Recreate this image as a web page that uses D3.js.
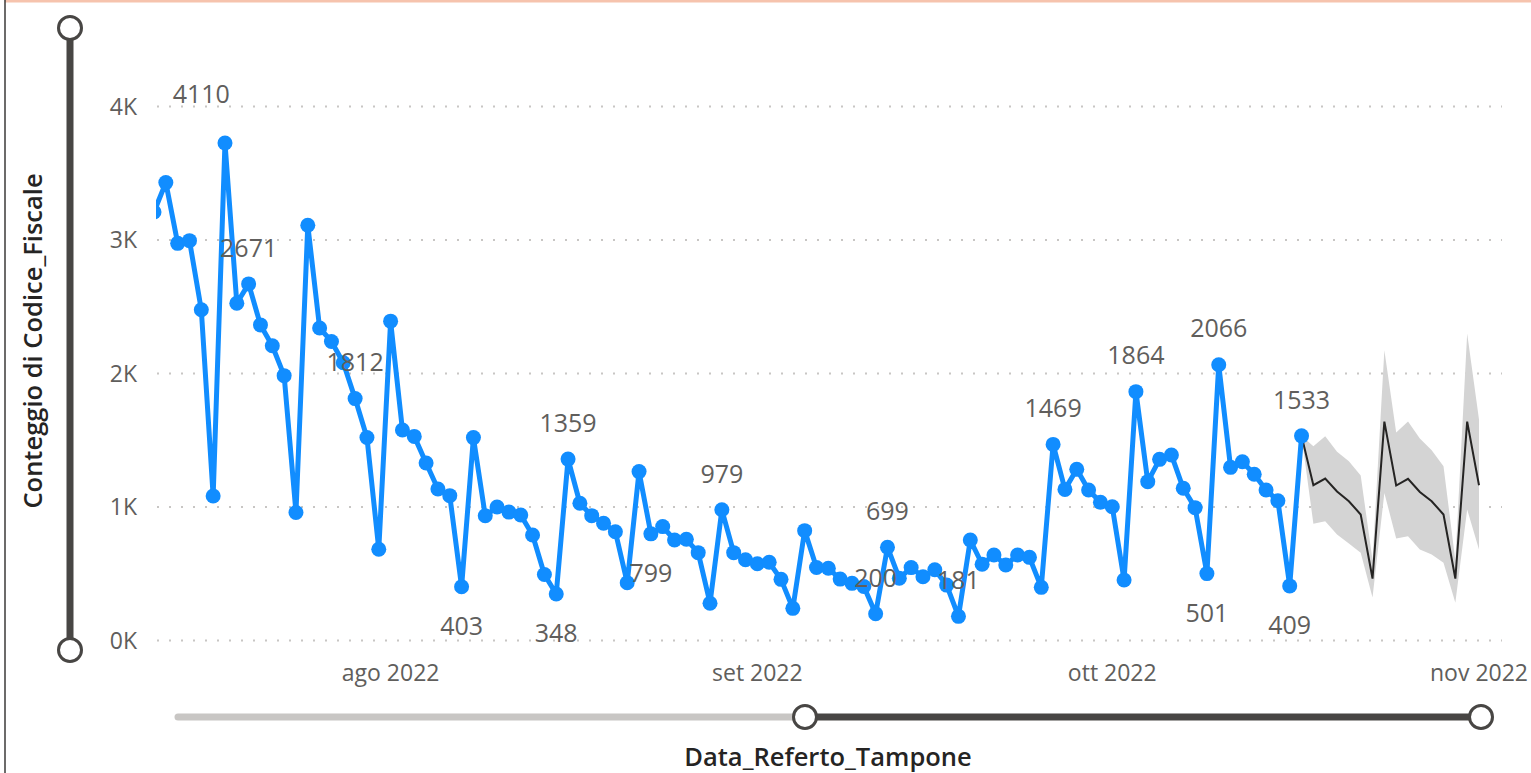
<!DOCTYPE html>
<html lang="it">
  <head>
    <meta charset="utf-8" />
    <title>Conteggio di Codice_Fiscale</title>
    <script src="https://d3js.org/d3.v7.min.js"></script>
    <style>
      body {
        margin: 0;
        background: #ffffff;
      }
      svg {
        display: block;
        font-family: "Open Sans", sans-serif;
      }
      .grid line {
        stroke: #c8c6c4;
        stroke-width: 2;
        stroke-dasharray: 2 10;
      }
      .tick-label {
        fill: #605e5c;
        font-size: 23px;
      }
      .data-label {
        fill: #605e5c;
        font-size: 25px;
        text-anchor: middle;
      }
      .axis-title {
        fill: #252423;
        font-size: 25.5px;
        font-weight: 600;
        text-anchor: middle;
      }
    </style>
  </head>
  <body>
    <svg width="1531" height="773"></svg>
    <script>
      // first day shown on the axis, one value per day after it
      var firstDay = new Date(2022, 6, 12);

      var counts = [
        3210, 3430, 2975, 2995, 2477, 1082, 3727, 2526, 2671, 2364,
        2208, 1984, 959, 3111, 2341, 2240, 2080, 1812, 1521, 683,
        2392, 1577, 1529, 1330, 1135, 1085, 403, 1520, 934, 1000,
        962, 940, 790, 494, 348, 1359, 1028, 935, 878, 815,
        433, 1265, 799, 853, 753, 758, 658, 279, 979, 658,
        605, 575, 586, 458, 241, 823, 547, 541, 460, 428,
        405, 200, 699, 466, 546, 478, 530, 415, 181, 753,
        571, 640, 566, 640, 623, 398, 1469, 1132, 1282, 1127,
        1035, 1002, 453, 1864, 1190, 1357, 1390, 1140, 995, 501,
        2066, 1297, 1339, 1245, 1127, 1047, 409, 1533
      ];

      // forecast starts on the last observed day
      var forecast = [1533, 1163, 1213, 1116, 1043, 944, 464, 1640, 1161, 1211, 1113, 1043, 944, 464, 1640, 1163];
      var forecastHigh = [1533, 1455, 1530, 1413, 1343, 1236, 603, 2175, 1558, 1640, 1513, 1426, 1306, 600, 2300, 1655];
      var forecastLow = [1533, 874, 894, 794, 727, 657, 322, 1105, 764, 781, 682, 644, 582, 282, 981, 682];

      var yTicks = [0, 1000, 2000, 3000, 4000];
      var monthTicks = [new Date(2022, 7, 1), new Date(2022, 8, 1), new Date(2022, 9, 1), new Date(2022, 10, 1)];

      // which days get a data label, and on which side of the point
      var labelDays = [8, 17, 26, 34, 35, 42, 48, 61, 62, 68, 76, 83, 89, 90, 96, 97];
      var labelSides = ["up", "up", "down", "down", "up", "down", "up", "up", "up", "up", "up", "up", "down", "up", "down", "up"];
      var maxLabelDay = 4, maxLabelValue = 4110;

      var svg = d3.select("svg");

      var days = counts.map(function(d, i) { return d3.timeDay.offset(firstDay, i); });
      var forecastDays = forecast.map(function(d, i) { return d3.timeDay.offset(firstDay, counts.length - 1 + i); });

      var x = d3.scaleTime()
        .domain([firstDay, new Date(2022, 10, 1)])
        .range([154, 1479]);
      var y = d3.scaleLinear()
        .domain([0, 4000])
        .range([640.5, 106.5]);

      // frame bits of the visual
      svg.append("rect").attr("x", 5).attr("y", 0).attr("width", 1526).attr("height", 2.5).attr("fill", "#f6c3ad");
      svg.append("line").attr("x1", 5).attr("x2", 5).attr("y1", 0).attr("y2", 773)
        .attr("stroke", "#3b3a39").attr("stroke-width", 1.5);

      svg.append("defs").append("clipPath").attr("id", "plot")
        .append("rect").attr("x", 156).attr("y", 0).attr("width", 1344).attr("height", 700);

      // grid lines
      svg.append("g").attr("class", "grid")
        .selectAll("line")
        .data(yTicks)
        .enter().append("line")
        .attr("x1", 157)
        .attr("x2", 1502)
        .attr("y1", function(d) { return y(d); })
        .attr("y2", function(d) { return y(d); });

      svg.append("g")
        .selectAll("text")
        .data(yTicks)
        .enter().append("text")
        .attr("class", "tick-label")
        .attr("x", 137)
        .attr("y", function(d) { return y(d); })
        .attr("dy", "0.35em")
        .attr("text-anchor", "end")
        .text(function(d) { return (d / 1000) + "K"; });

      var monthFmt = d3.timeFormatLocale({
        dateTime: "%A %e %B %Y, %X", date: "%d/%m/%Y", time: "%H:%M:%S",
        periods: ["AM", "PM"],
        days: ["domenica", "lunedì", "martedì", "mercoledì", "giovedì", "venerdì", "sabato"],
        shortDays: ["dom", "lun", "mar", "mer", "gio", "ven", "sab"],
        months: ["gennaio", "febbraio", "marzo", "aprile", "maggio", "giugno", "luglio", "agosto", "settembre", "ottobre", "novembre", "dicembre"],
        shortMonths: ["gen", "feb", "mar", "apr", "mag", "giu", "lug", "ago", "set", "ott", "nov", "dic"]
      }).format("%b %Y");

      svg.append("g")
        .selectAll("text")
        .data(monthTicks)
        .enter().append("text")
        .attr("class", "tick-label")
        .attr("x", function(d) { return x(d); })
        .attr("y", 673)
        .attr("dy", "0.35em")
        .attr("text-anchor", "middle")
        .text(function(d) { return monthFmt(d); });

      var plot = svg.append("g").attr("clip-path", "url(#plot)");

      // forecast band and line
      plot.append("path")
        .datum(forecast)
        .attr("fill", "#d4d4d4")
        .attr("d", d3.area()
          .x(function(d, i) { return x(forecastDays[i]); })
          .y0(function(d, i) { return y(forecastLow[i]); })
          .y1(function(d, i) { return y(forecastHigh[i]); }));

      plot.append("path")
        .datum(forecast)
        .attr("fill", "none")
        .attr("stroke", "#252423")
        .attr("stroke-width", 2)
        .attr("d", d3.line()
          .x(function(d, i) { return x(forecastDays[i]); })
          .y(function(d) { return y(d); }));

      // observed series
      plot.append("path")
        .datum(counts)
        .attr("fill", "none")
        .attr("stroke", "#118dff")
        .attr("stroke-width", 5)
        .attr("stroke-linejoin", "round")
        .attr("d", d3.line()
          .x(function(d, i) { return x(days[i]); })
          .y(function(d) { return y(d); }));

      plot.selectAll(".dot")
        .data(counts)
        .enter().append("circle")
        .attr("class", "dot")
        .attr("cx", function(d, i) { return x(days[i]); })
        .attr("cy", function(d) { return y(d); })
        .attr("r", 7.5)
        .attr("fill", "#118dff");

      // data labels
      svg.append("g")
        .selectAll("text")
        .data(labelDays)
        .enter().append("text")
        .attr("class", "data-label")
        .attr("x", function(d) { return x(days[d]); })
        .attr("y", function(d, i) { return y(counts[d]) + (labelSides[i] == "up" ? -36 : 39.5); })
        .attr("dy", "0.35em")
        .text(function(d) { return counts[d]; });

      svg.append("text")
        .attr("class", "data-label")
        .attr("x", x(days[maxLabelDay]))
        .attr("y", y(maxLabelValue) + 2)
        .attr("dy", "0.35em")
        .text(maxLabelValue);

      // axis titles
      svg.append("text")
        .attr("class", "axis-title")
        .attr("transform", "translate(33,341) rotate(-90)")
        .attr("dy", "0.35em")
        .text("Conteggio di Codice_Fiscale");

      svg.append("text")
        .attr("class", "axis-title")
        .attr("x", 828)
        .attr("y", 757)
        .attr("dy", "0.35em")
        .text("Data_Referto_Tampone");

      // zoom sliders
      var sliderDark = "#484644";
      svg.append("line").attr("x1", 70).attr("x2", 70).attr("y1", 28).attr("y2", 650)
        .attr("stroke", sliderDark).attr("stroke-width", 7);
      svg.append("line").attr("x1", 178).attr("x2", 805).attr("y1", 717).attr("y2", 717)
        .attr("stroke", "#c8c6c4").attr("stroke-width", 7).attr("stroke-linecap", "round");
      svg.append("line").attr("x1", 805).attr("x2", 1481).attr("y1", 717).attr("y2", 717)
        .attr("stroke", sliderDark).attr("stroke-width", 7);

      svg.selectAll(".knob")
        .data([[70, 28], [70, 650], [805, 717], [1481, 717]])
        .enter().append("circle")
        .attr("class", "knob")
        .attr("cx", function(d) { return d[0]; })
        .attr("cy", function(d) { return d[1]; })
        .attr("r", 11.5)
        .attr("fill", "#ffffff")
        .attr("stroke", sliderDark)
        .attr("stroke-width", 3);
    </script>
  </body>
</html>
